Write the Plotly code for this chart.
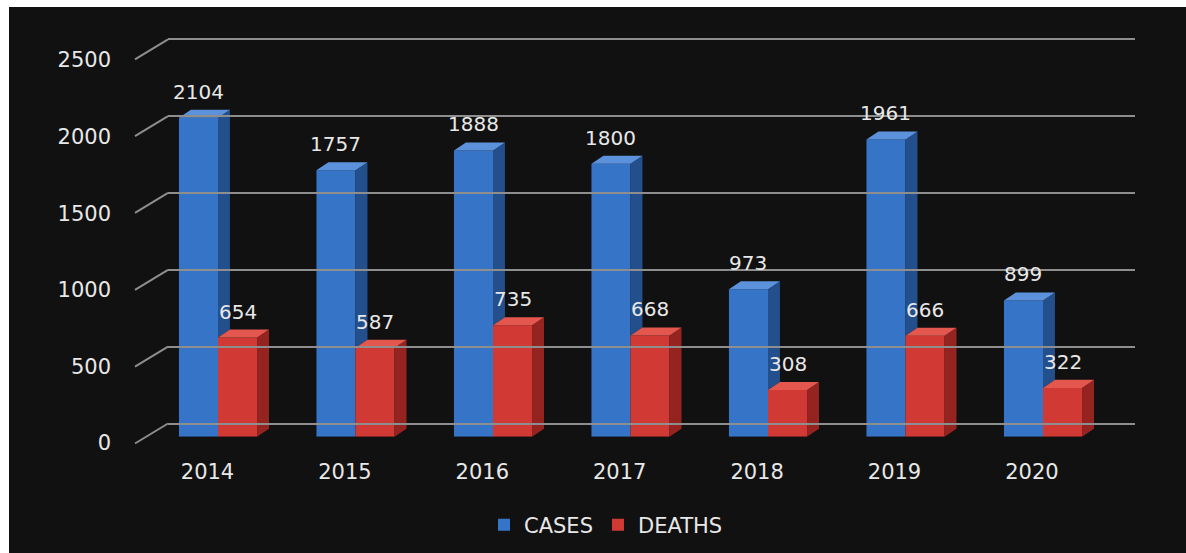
import plotly.graph_objects as go

# ---- data -------------------------------------------------------------
years = ["2014", "2015", "2016", "2017", "2018", "2019", "2020"]
cases = [2104, 1757, 1888, 1800, 973, 1961, 899]
deaths = [654, 587, 735, 668, 308, 666, 322]
y_ticks = [0, 500, 1000, 1500, 2000, 2500]

# ---- geometry helpers (pixel -> paper fraction) ------------------------
W, H = 1186, 553


def px(p):
    return p / W


def py(p):
    return 1 - p / H


BAR_W = 0.284      # width of one bar front face (category units)
SIDE_DX = 0.087    # depth of the extruded side (category units)
SIDE_DY = 53       # depth rise of the extruded top (value units)

BLUE, BLUE_SIDE, BLUE_TOP = "#3674c8", "#234f8c", "#5c92dc"
RED, RED_SIDE, RED_TOP = "#d13a34", "#952420", "#e4574f"
GRID = "#8e8e8e"
TXT = "#e8e8e8"
FONT = "DejaVu Sans"

xs = list(range(len(years)))
fig = go.Figure()

# front faces
fig.add_trace(go.Bar(x=xs, y=cases, name="CASES", width=BAR_W, offset=-BAR_W,
                     marker=dict(color=BLUE, line=dict(width=0)),
                     xaxis="x", yaxis="y"))
fig.add_trace(go.Bar(x=xs, y=deaths, name="DEATHS", width=BAR_W, offset=0,
                     marker=dict(color=RED, line=dict(width=0)),
                     xaxis="x", yaxis="y"))


def faces(left, vals, bottoms):
    """Side and top polygons of extruded columns."""
    sx, sy, tx, ty = [], [], [], []
    for xl, v, b in zip(left, vals, bottoms):
        xr = xl + BAR_W
        sx += [xr, xr + SIDE_DX, xr + SIDE_DX, xr, xr, None]
        sy += [b, b + SIDE_DY, v + SIDE_DY, v, b, None]
        tx += [xl, xl + SIDE_DX, xr + SIDE_DX, xr, xl, None]
        ty += [v, v + SIDE_DY, v + SIDE_DY, v, v, None]
    return sx, sy, tx, ty


def poly(x, y, color):
    return go.Scatter(x=x, y=y, mode="lines", fill="toself", fillcolor=color,
                      line=dict(width=0, color=color), hoverinfo="skip",
                      showlegend=False, xaxis="x", yaxis="y")


# blue columns: side visible only above the neighbouring red column
bsx, bsy, btx, bty = faces([k - BAR_W for k in xs], cases, deaths)
fig.add_trace(poly(bsx, bsy, BLUE_SIDE))
fig.add_trace(poly(btx, bty, BLUE_TOP))
rsx, rsy, rtx, rty = faces(xs, deaths, [0] * len(xs))
fig.add_trace(poly(rsx, rsy, RED_SIDE))
fig.add_trace(poly(rtx, rty, RED_TOP))

# empty traces so the label axes and the back-wall grid get their subplots
fig.add_trace(go.Scatter(x=[], y=[], xaxis="x2", yaxis="y2",
                         showlegend=False, hoverinfo="skip"))
fig.add_trace(go.Scatter(x=[], y=[], xaxis="x3", yaxis="y3",
                         showlegend=False, hoverinfo="skip"))

# value labels
for k, v in zip(xs, cases):
    fig.add_annotation(x=k - BAR_W / 2, y=v, text=str(v), showarrow=False,
                       xref="x", yref="y", yanchor="bottom", yshift=12,
                       font=dict(family=FONT, size=20, color=TXT))
for k, v in zip(xs, deaths):
    fig.add_annotation(x=k + BAR_W / 2, y=v, text=str(v), showarrow=False,
                       xref="x", yref="y", yanchor="bottom", yshift=12,
                       font=dict(family=FONT, size=20, color=TXT))

# chart panel
fig.add_shape(type="rect", xref="paper", yref="paper", x0=px(9), x1=1,
              y0=0, y1=py(7), fillcolor="#111111", line=dict(width=0),
              layer="below")

# slanted side-wall segments joining the tick labels to the back wall grid
for t in y_ticks:
    fig.add_shape(type="line", xref="paper", yref="y3",
                  ysizemode="pixel", yanchor=t, y0=-20, y1=0,
                  x0=px(135), x1=px(168), line=dict(color=GRID, width=2),
                  layer="below")

fig.update_layout(
    width=W, height=H,
    margin=dict(l=0, r=0, t=0, b=0, autoexpand=False),
    paper_bgcolor="white", plot_bgcolor="rgba(0,0,0,0)",
    barmode="overlay",
    font=dict(family=FONT, color=TXT),
    # bars
    xaxis=dict(domain=[px(149.25), px(1111.75)], range=[-0.5, 6.5],
               visible=False, fixedrange=True),
    yaxis=dict(domain=[py(436.7), py(57.7)], range=[0, 2500],
               visible=False, fixedrange=True),
    # category labels
    xaxis2=dict(domain=[px(138.8), px(1100.6)], range=[-0.5, 6.5],
                anchor="free", position=py(457), tickvals=xs, ticktext=years,
                showgrid=False, zeroline=False, showline=False, ticks="",
                tickfont=dict(family=FONT, size=21, color=TXT),
                fixedrange=True, automargin=False),
    # value axis labels
    yaxis2=dict(domain=[py(443), py(60)], range=[0, 2500], anchor="free",
                position=px(111), tickvals=y_ticks, showgrid=False,
                zeroline=False, showline=False, ticks="",
                tickfont=dict(family=FONT, size=21, color=TXT),
                fixedrange=True, automargin=False),
    # back wall grid (range padded below so the 0 line and its
    # side-wall segment stay inside the subplot)
    xaxis3=dict(domain=[px(168), px(1135)], range=[0, 1], anchor="y3",
                visible=False, fixedrange=True),
    yaxis3=dict(domain=[py(446.55), py(36.2)], range=[-150, 2520],
                anchor="x3", tickvals=y_ticks, showgrid=True, gridcolor=GRID,
                gridwidth=2, zeroline=False, showticklabels=False, ticks="",
                showline=False, fixedrange=True),
    legend=dict(orientation="h", x=px(606), xanchor="center", y=py(525),
                yanchor="middle", font=dict(family=FONT, size=21, color=TXT),
                bgcolor="rgba(0,0,0,0)", itemclick=False),
    showlegend=True,
)

fig.write_html("out.html")
